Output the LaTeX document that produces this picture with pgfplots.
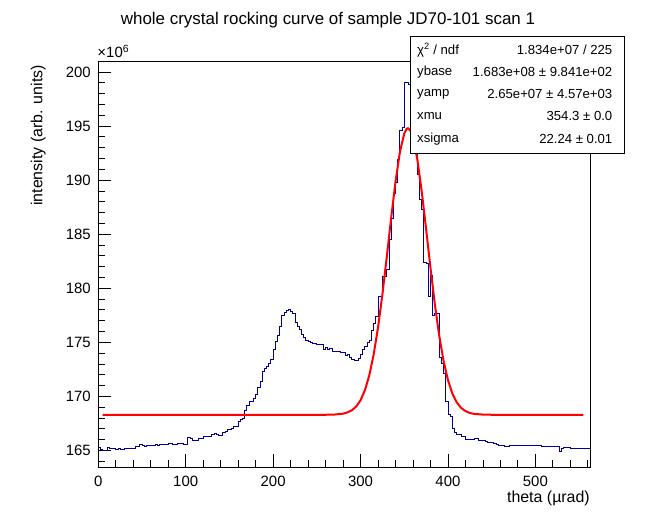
\documentclass[border=0pt]{standalone}
\usepackage{pgfplots}
\pgfplotsset{compat=1.18}
\usepackage{pgfplotstable}
\usepackage{fontspec}
\setmainfont{Liberation Sans}
\definecolor{histblue}{RGB}{0,0,153}
\pgfplotstableread{
x y
0 165.28
2.5 165.05
5 165.0
7.5 165.0
10 165.24
12.5 165.22
15 165.18
17.5 165.15
20 165.12
22.5 165.15
25 165.13
27.5 165.1
30 165.16
32.5 165.14
35 165.15
37.5 165.16
40 165.17
42.5 165.33
45 165.35
47.5 165.58
50 165.42
52.5 165.40
55 165.44
57.5 165.46
60 165.45
62.5 165.47
65 165.52
67.5 165.50
70 165.55
72.5 165.53
75 165.56
77.5 165.55
80 165.67
82.5 165.66
85 165.52
87.5 165.55
90 165.64
92.5 165.62
95 165.67
97.5 165.58
100 165.6
102.5 166.16
105 166.14
107.5 165.95
110 165.92
112.5 165.89
115 166.07
117.5 166.1
120 166.26
122.5 166.25
125 166.27
127.5 166.26
130 166.5
132.5 166.55
135 166.45
137.5 166.4
140 166.42
142.5 166.7
145 166.72
147.5 166.94
150 166.96
152.5 167.05
155 167.2
157.5 167.25
160 167.65
162.5 167.9
165 167.95
167.5 168.73
170 169.2
172.5 169.5
175 169.55
177.5 169.8
180 170.2
182.5 170.8
185 171.35
187.5 172.3
190 172.6
192.5 172.8
195 173.05
197.5 173.4
200 174.35
202.5 175.1
205 175.65
207.5 176.5
210 177.44
212.5 177.75
215 177.93
217.5 178.05
220 177.87
222.5 177.7
225 176.85
227.5 176.5
230 176.2
232.5 175.74
235 175.43
237.5 175.2
240 175.05
242.5 174.96
245 174.9
247.5 174.9
250 174.78
252.5 174.84
255 174.84
257.5 174.35
260 174.54
262.5 174.3
265 174.44
267.5 174.2
270 174.17
272.5 174.17
275 174.15
277.5 174.07
280 174.07
282.5 173.8
285 173.9
287.5 173.6
290 173.4
292.5 173.33
295 173.35
297.5 173.5
300 173.9
302.5 174.35
305 174.65
307.5 174.96
310 175.2
312.5 176.1
315 176.76
317.5 177.4
320 179.2
322.5 179.2
325 181.1
327.5 181.1
330 181.7
332.5 184.5
335 186.5
337.5 188.8
340 189.8
342.5 191.9
345 194.6
347.5 194.9
350 199.0
352.5 199.0
355 198.8
357.5 197.5
360 196.0
362.5 193.0
365 190.5
367.5 188.2
370 187.3
372.5 182.4
375 182.3
377.5 179.2
380 181.2
382.5 177.5
385 177.7
387.5 177.7
390 173.6
392.5 173.0
395 172.1
397.5 169.5
400 168.3
402.5 168.1
405 167.0
407.5 166.7
410 166.5
412.5 166.45
415 166.3
417.5 166.27
420 166.05
422.5 166.05
425 166.05
427.5 166.05
430 166.1
432.5 166.14
435 165.95
437.5 165.9
440 165.95
442.5 165.83
445 165.77
447.5 165.75
450 165.7
452.5 165.64
455 165.6
457.5 165.49
460 165.49
462.5 165.42
465 165.40
467.5 165.4
470 165.45
472.5 165.42
475 165.47
477.5 165.45
480 165.43
482.5 165.47
485 165.44
487.5 165.46
490 165.42
492.5 165.45
495 165.44
497.5 165.46
500 165.42
502.5 165.45
505 165.45
507.5 165.4
510 165.33
512.5 165.33
515 165.33
517.5 165.33
520 165.33
522.5 165.33
525 165.33
527.5 164.94
530 165.2
532.5 165.25
535 165.3
537.5 165.25
540 165.2
542.5 165.2
545 165.2
547.5 165.2
550 165.2
552.5 165.2
555 165.18
557.5 165.2
560 165.2
562.5 165.2
}\histdata
\pgfplotstableread{
x y
5 168.30
100 168.30
200 168.30
260 168.30
270 168.32
280 168.40
285 168.52
290 168.71
295 169.06
300 169.64
305 170.57
310 171.94
315 173.86
320 176.37
325 179.42
330 182.89
335 186.48
340 189.85
345 192.58
350 194.31
352.5 194.71
354.3 194.80
357.5 194.53
360 193.94
365 191.90
370 188.95
375 185.48
380 181.89
385 178.52
390 175.61
395 173.27
400 171.51
405 170.27
410 169.45
415 168.94
420 168.64
425 168.47
430 168.38
440 168.32
450 168.30
555 168.30
}\fitdata
\begin{document}
\begin{tikzpicture}
\useasboundingbox (-98.3bp,-55bp) rectangle (557.7bp,467bp);
\begin{axis}[
  at={(0,0)}, anchor=south west, scale only axis,
  width=491.7bp, height=405.3bp,
  xmin=0, xmax=562.5, ymin=163.47, ymax=200.95,
  xtick={0,100,...,500}, minor xtick={0,20,...,560},
  ytick={165,170,...,200}, minor ytick={164,165,...,200},
  xtick pos=left, ytick pos=left,
  tick align=inside,
  major tick length=13bp, minor tick length=6.5bp,
  tick style={black, line width=0.8bp},
  axis line style={line width=0.8bp},
  ticklabel style={font=\fontsize{15}{17}\selectfont},
  yticklabel style={xshift=-4bp},
  xticklabel style={yshift=-6bp},
  /pgf/number format/assume math mode=true,
  scaled y ticks=false,
  clip=false,
]
\addplot[const plot, histblue, line width=0.9bp] table[x=x,y=y] {\histdata};
\addplot[red, line width=2bp] table[x=x,y=y] {\fitdata};
\end{axis}
\node[anchor=base, font=\fontsize{17}{19}\selectfont] at (229.7bp,442bp) {whole crystal rocking curve of sample JD70-101 scan 1};
\node[anchor=east, rotate=90, font=\fontsize{16}{18}\selectfont] at (-60bp,405.3bp) {intensity (arb. units)};
\node[anchor=base east, inner sep=0pt, font=\fontsize{16}{18}\selectfont] at (491.7bp,-35bp) {theta (µrad)};
\node[anchor=base west, inner sep=0pt, font=\fontsize{15}{17}\selectfont] at (-1bp,409bp) {×10\textsuperscript{6}};
\draw[fill=white, line width=0.8bp] (311.7bp,313.7bp) rectangle (525.7bp,430.9bp);
\begin{scope}[every node/.style={font=\fontsize{13.2}{15}\selectfont, inner sep=0pt}]
\node[anchor=west] at (318.7bp,417bp) {χ\textsuperscript{2} / ndf};
\node[anchor=east] at (514.2bp,417bp) {1.834e+07 / 225};
\node[anchor=west] at (318.7bp,395bp) {ybase};
\node[anchor=east] at (514.2bp,395bp) {1.683e+08 ± 9.841e+02};
\node[anchor=west] at (318.7bp,373bp) {yamp};
\node[anchor=east] at (514.2bp,373bp) {2.65e+07 ± 4.57e+03};
\node[anchor=west] at (318.7bp,351bp) {xmu};
\node[anchor=east] at (514.2bp,351bp) {354.3 ± 0.0};
\node[anchor=west] at (318.7bp,328bp) {xsigma};
\node[anchor=east] at (514.2bp,328bp) {22.24 ± 0.01};
\end{scope}
\end{tikzpicture}
\end{document}
